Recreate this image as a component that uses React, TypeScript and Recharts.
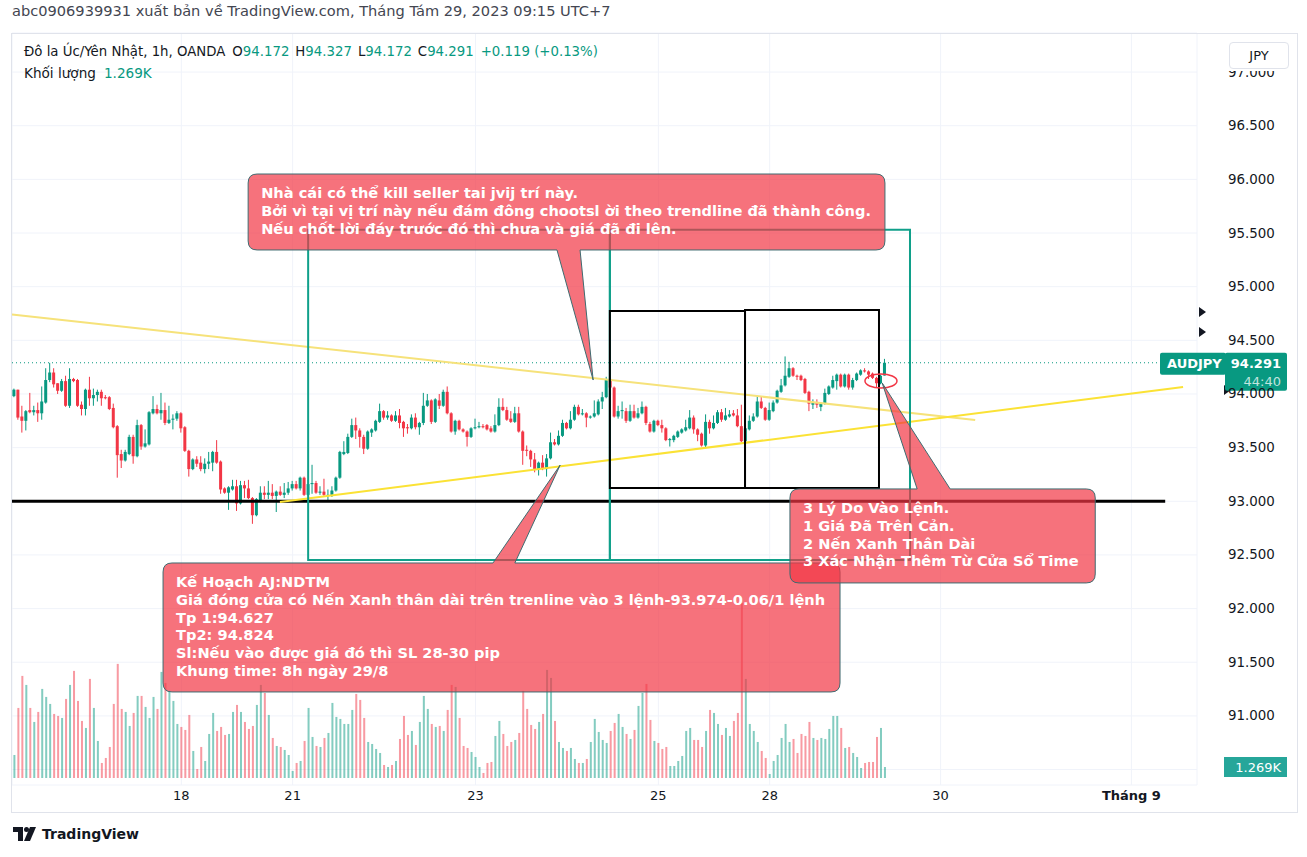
import React from 'react';
import {
  ComposedChart,
  Bar,
  XAxis,
  YAxis,
  CartesianGrid,
  ReferenceLine,
  ReferenceArea,
  ReferenceDot,
} from 'recharts';

// AUDJPY 1h candles (oldest first)
const opens = [
  93.98, 94.04, 93.79, 93.75, 93.85, 93.83, 93.85, 93.82, 93.92, 94.13,
  94.20, 94.10, 94.03, 94.12, 93.89, 94.14, 94.13, 93.90, 93.86, 94.04,
  93.96, 93.99, 94.02, 93.97, 93.97, 93.87, 93.70, 93.44, 93.38, 93.44,
  93.60, 93.42, 93.71, 93.51, 93.53, 93.82, 93.86, 93.82, 93.85, 93.73,
  93.76, 93.77, 93.82, 93.69, 93.47, 93.30, 93.39, 93.36, 93.30, 93.35,
  93.36, 93.46, 93.37, 93.12, 93.08, 93.11, 93.14, 92.98, 93.15, 93.12,
  93.03, 92.87, 93.00, 93.08, 93.06, 93.08, 93.05, 93.09, 93.06, 93.08,
  93.12, 93.16, 93.12, 93.22, 93.06, 93.16, 93.17, 93.08, 93.09, 93.05,
  93.06, 93.10, 93.22, 93.44, 93.45, 93.60, 93.71, 93.66, 93.60, 93.49,
  93.64, 93.66, 93.74, 93.84, 93.78, 93.80, 93.75, 93.80, 93.74, 93.69,
  93.68, 93.78, 93.69, 93.73, 93.89, 93.94, 93.74, 93.94, 93.89, 94.02,
  93.82, 93.65, 93.75, 93.67, 93.65, 93.60, 93.68, 93.69, 93.70, 93.71,
  93.68, 93.65, 93.71, 93.88, 93.85, 93.77, 93.74, 93.82, 93.65, 93.48,
  93.47, 93.39, 93.30, 93.36, 93.30, 93.40, 93.55, 93.53, 93.61, 93.73,
  93.68, 93.76, 93.88, 93.81, 93.82, 93.78, 93.79, 93.81, 93.93, 93.97,
  94.14, 94.06, 93.79, 93.84, 93.84, 93.75, 93.84, 93.78, 93.82, 93.88,
  93.72, 93.65, 93.75, 93.71, 93.68, 93.57, 93.57, 93.60, 93.64, 93.66,
  93.68, 93.78, 93.67, 93.63, 93.52, 93.74, 93.68, 93.73, 93.83, 93.76,
  93.79, 93.82, 93.80, 93.70, 93.56, 93.67, 93.75, 93.79, 93.93, 93.87,
  93.76, 93.84, 93.92, 94.02, 94.08, 94.16, 94.24, 94.17, 94.17, 94.14,
  94.02, 93.90, 93.92, 93.88, 93.91, 94.00, 94.06, 94.12, 94.18, 94.07,
  94.18, 94.06, 94.13, 94.18, 94.22, 94.21, 94.19, 94.15, 94.10, 94.172,
];

const highs = [
  94.05, 94.04, 93.89, 93.85, 94.01, 93.89, 93.92, 94.07, 94.24, 94.29,
  94.24, 94.10, 94.14, 94.17, 94.24, 94.15, 94.14, 93.93, 94.05, 94.16,
  94.05, 94.04, 94.04, 93.99, 93.98, 93.91, 93.71, 93.48, 93.48, 93.62,
  93.62, 93.76, 93.72, 93.67, 93.84, 93.98, 93.90, 94.01, 93.92, 93.89,
  93.81, 93.84, 93.83, 93.70, 93.48, 93.40, 93.42, 93.42, 93.40, 93.46,
  93.47, 93.57, 93.38, 93.13, 93.14, 93.20, 93.20, 93.19, 93.19, 93.20,
  93.04, 93.03, 93.14, 93.14, 93.19, 93.16, 93.10, 93.14, 93.17, 93.18,
  93.19, 93.19, 93.23, 93.23, 93.20, 93.34, 93.19, 93.14, 93.21, 93.11,
  93.14, 93.23, 93.47, 93.56, 93.63, 93.77, 93.78, 93.68, 93.62, 93.66,
  93.68, 93.76, 93.91, 93.85, 93.84, 93.81, 93.84, 93.86, 93.75, 93.72,
  93.81, 93.82, 93.74, 94.01, 94.00, 93.95, 93.96, 94.00, 94.04, 94.07,
  93.83, 93.76, 93.76, 93.68, 93.66, 93.69, 93.77, 93.74, 93.72, 93.72,
  93.70, 93.81, 93.96, 93.96, 93.88, 93.84, 93.88, 93.88, 93.66, 93.52,
  93.48, 93.45, 93.37, 93.43, 93.44, 93.64, 93.58, 93.66, 93.76, 93.74,
  93.84, 93.90, 93.90, 93.86, 93.83, 93.80, 93.94, 93.95, 94.02, 94.16,
  94.19, 94.07, 93.89, 93.93, 93.87, 93.90, 93.90, 93.87, 93.93, 93.89,
  93.74, 93.76, 93.76, 93.76, 93.69, 93.59, 93.62, 93.66, 93.68, 93.76,
  93.85, 93.80, 93.68, 93.64, 93.81, 93.76, 93.80, 93.85, 93.86, 93.87,
  93.85, 93.85, 93.86, 93.90, 93.69, 93.80, 93.82, 93.98, 93.98, 93.88,
  93.92, 93.94, 94.04, 94.14, 94.35, 94.30, 94.25, 94.18, 94.18, 94.15,
  94.03, 93.95, 93.95, 93.92, 94.05, 94.08, 94.17, 94.19, 94.19, 94.19,
  94.19, 94.15, 94.20, 94.23, 94.24, 94.22, 94.20, 94.16, 94.18, 94.327,
];

const lows = [
  93.97, 93.76, 93.64, 93.66, 93.82, 93.80, 93.74, 93.76, 93.91, 94.11,
  94.06, 94.00, 94.02, 93.88, 93.87, 94.11, 93.88, 93.80, 93.80, 93.89,
  93.89, 93.93, 93.89, 93.95, 93.85, 93.68, 93.22, 93.31, 93.37, 93.43,
  93.35, 93.41, 93.48, 93.50, 93.52, 93.81, 93.81, 93.76, 93.71, 93.72,
  93.67, 93.75, 93.64, 93.46, 93.23, 93.29, 93.32, 93.28, 93.26, 93.30,
  93.28, 93.35, 93.07, 93.07, 92.92, 93.10, 92.91, 92.97, 93.03, 93.02,
  92.79, 92.86, 92.99, 93.02, 93.02, 93.02, 92.90, 93.05, 93.03, 93.06,
  93.10, 93.11, 93.10, 93.05, 93.05, 93.07, 93.07, 93.06, 93.05, 93.00,
  93.04, 93.09, 93.21, 93.43, 93.44, 93.59, 93.58, 93.50, 93.44, 93.48,
  93.60, 93.65, 93.73, 93.76, 93.76, 93.74, 93.74, 93.68, 93.60, 93.63,
  93.67, 93.67, 93.62, 93.71, 93.88, 93.72, 93.73, 93.86, 93.88, 93.81,
  93.64, 93.62, 93.66, 93.64, 93.51, 93.59, 93.67, 93.68, 93.68, 93.66,
  93.64, 93.64, 93.70, 93.84, 93.75, 93.73, 93.73, 93.64, 93.34, 93.42,
  93.32, 93.27, 93.24, 93.29, 93.23, 93.39, 93.52, 93.52, 93.60, 93.67,
  93.67, 93.75, 93.80, 93.80, 93.69, 93.77, 93.78, 93.80, 93.86, 93.96,
  94.04, 93.78, 93.77, 93.77, 93.73, 93.74, 93.77, 93.77, 93.81, 93.71,
  93.64, 93.64, 93.70, 93.64, 93.56, 93.51, 93.55, 93.59, 93.63, 93.65,
  93.67, 93.63, 93.56, 93.51, 93.50, 93.63, 93.67, 93.72, 93.74, 93.75,
  93.78, 93.79, 93.69, 93.55, 93.55, 93.66, 93.74, 93.78, 93.86, 93.75,
  93.75, 93.83, 93.91, 94.01, 94.07, 94.15, 94.16, 94.13, 94.12, 94.00,
  93.84, 93.86, 93.87, 93.84, 93.90, 93.99, 94.05, 94.04, 94.06, 94.06,
  94.04, 94.04, 94.12, 94.17, 94.20, 94.14, 94.14, 94.06, 94.09, 94.172,
];

const closes = [
  94.04, 93.78, 93.75, 93.84, 93.83, 93.85, 93.82, 93.93, 94.13, 94.20,
  94.09, 94.03, 94.12, 93.89, 94.14, 94.12, 93.89, 93.86, 94.04, 93.96,
  93.99, 94.02, 93.96, 93.96, 93.86, 93.69, 93.43, 93.38, 93.46, 93.60,
  93.42, 93.71, 93.51, 93.54, 93.83, 93.86, 93.82, 93.85, 93.73, 93.76,
  93.77, 93.82, 93.68, 93.47, 93.30, 93.39, 93.35, 93.30, 93.35, 93.37,
  93.46, 93.36, 93.11, 93.08, 93.13, 93.14, 92.98, 93.15, 93.12, 93.03,
  92.87, 93.02, 93.08, 93.06, 93.08, 93.05, 93.09, 93.06, 93.08, 93.12,
  93.16, 93.12, 93.22, 93.06, 93.16, 93.17, 93.08, 93.09, 93.06, 93.06,
  93.10, 93.22, 93.46, 93.46, 93.60, 93.71, 93.66, 93.60, 93.49, 93.65,
  93.67, 93.75, 93.84, 93.78, 93.80, 93.75, 93.80, 93.73, 93.68, 93.68,
  93.78, 93.69, 93.73, 93.89, 93.94, 93.74, 93.95, 93.89, 94.02, 93.82,
  93.65, 93.75, 93.67, 93.65, 93.60, 93.68, 93.69, 93.70, 93.69, 93.67,
  93.65, 93.71, 93.88, 93.85, 93.76, 93.74, 93.82, 93.65, 93.47, 93.47,
  93.39, 93.30, 93.36, 93.30, 93.40, 93.55, 93.53, 93.61, 93.73, 93.68,
  93.76, 93.88, 93.81, 93.82, 93.78, 93.79, 93.82, 93.93, 93.97, 94.14,
  94.06, 93.79, 93.84, 93.85, 93.75, 93.84, 93.78, 93.82, 93.88, 93.73,
  93.65, 93.75, 93.71, 93.68, 93.57, 93.58, 93.61, 93.65, 93.67, 93.69,
  93.78, 93.67, 93.62, 93.52, 93.74, 93.68, 93.73, 93.83, 93.76, 93.80,
  93.81, 93.80, 93.70, 93.56, 93.68, 93.75, 93.79, 93.93, 93.87, 93.76,
  93.85, 93.92, 94.03, 94.08, 94.17, 94.24, 94.17, 94.16, 94.13, 94.01,
  93.91, 93.92, 93.90, 93.91, 94.01, 94.07, 94.13, 94.18, 94.07, 94.18,
  94.06, 94.13, 94.19, 94.22, 94.21, 94.18, 94.15, 94.10, 94.17, 94.291,
];

const volumes = [
  2656, 8085, 11781, 10741, 8085, 6468, 7623, 10280, 9356, 8547,
  7392, 7161, 6930, 9125, 10741, 12359, 8894, 6584, 5775, 11435,
  8085, 4274, 1733, 2310, 3581, 8547, 13167, 7970, 7623, 6006,
  7508, 9471, 9471, 8201, 6930, 9356, 7970, 12243, 10973, 10049,
  8894, 6237, 5891, 5544, 7277, 3119, 1040, 3581, 1964, 5082,
  7508, 5429, 5891, 4967, 5082, 7623, 8432, 7623, 6468, 5660,
  6006, 8432, 10741, 9818, 7277, 4620, 3696, 3581, 3234, 2656,
  809, 1733, 1964, 4274, 8085, 4736, 3696, 3581, 4620, 5198,
  8663, 7046, 6815, 6237, 6237, 7854, 9702, 9009, 6930, 4158,
  3927, 3350, 2888, 1502, 1271, 1502, 1964, 4505, 7161, 4967,
  5429, 3812, 6468, 9471, 7970, 6237, 5891, 6006, 5429, 7854,
  10741, 10511, 6930, 3696, 3465, 3003, 2426, 1271, 578, 1733,
  1848, 4851, 6584, 5082, 3696, 4158, 4389, 5198, 10049, 7970,
  6122, 5660, 6468, 7392, 12474, 11550, 6584, 4158, 3465, 3119,
  3465, 2195, 1733, 1733, 2195, 4158, 6815, 5313, 4389, 4043,
  5429, 6353, 7392, 5891, 5082, 4505, 5544, 8316, 9818, 10857,
  6699, 4274, 4043, 3350, 3581, 1386, 1386, 1964, 2541, 5429,
  5775, 4389, 4389, 3581, 5429, 7854, 7508, 6237, 4967, 5775,
  4851, 6584, 7508, 20200, 11434, 6237, 5429, 4158, 3119, 2310,
  462, 1964, 2656, 4620, 6237, 4158, 4505, 2888, 5082, 4851,
  6468, 4620, 4389, 4620, 4505, 5660, 7161, 7161, 5775, 3465,
  3581, 2888, 2426, 1155, 1733, 1848, 1848, 4736, 5775, 1269,
];

// time axis: candle index where each day label sits
const dayTicks = [42, 70, 116, 162, 190, 233, 281];
const dayLabels = ['18', '21', '23', '25', '28', '30', 'Tháng 9'];
// 90.5 only gets a grid line; its label sits under the volume tag
const priceTicks = [90.5, 91, 91.5, 92, 92.5, 93, 93.5, 94, 94.5, 95, 95.5, 96, 96.5, 97];

const UP = '#089981';
const DOWN = '#f23645';
const FONT = "'DejaVu Sans', sans-serif";
const TEXT = '#131722';

const X_DOMAIN: [number, number] = [-0.6, 297.5];
const P_DOMAIN: [number, number] = [90.356, 97.364];
const V_DOMAIN: [number, number] = [-808, 85973];

const candles = opens.map((open, i) => ({
  i,
  open,
  high: highs[i],
  low: lows[i],
  close: closes[i],
  vol: volumes[i],
}));

const last = candles.length - 1;

// drawings on the chart, in (candle index, price)
const trendLines = [
  { from: [-0.6, 94.74], to: [241.7, 93.758], color: '#f6e27a', width: 2 },
  { from: [66.8, 92.993], to: [294.0, 94.065], color: '#fbe235', width: 2 },
];

const boxes = [
  { x1: 73.9, x2: 149.8, y1: 92.453, y2: 95.53, color: '#10a08a' },
  { x1: 149.8, x2: 225.3, y1: 92.453, y2: 95.53, color: '#10a08a' },
  { x1: 149.8, x2: 183.8, y1: 93.124, y2: 94.774, color: '#000000' },
  { x1: 183.8, x2: 217.5, y1: 93.124, y2: 94.783, color: '#000000' },
];

const axisMarks = [94.764, 94.578];

const notes = [
  {
    x1: 58.8, x2: 219.0, top: 96.05, bottom: 95.342, side: 'bottom',
    base: [136.5, 142.3], tip: [145.6, 94.13],
    lines: [
      'Nhà cái có thể kill seller tai jvij trí này.',
      'Bởi vì tại vị trí này nếu đám đông chootsl ời theo trendline đã thành công.',
      'Nếu chốt lời đáy trước đó thì chưa và giá đã đi lên.',
    ],
  },
  {
    x1: 37.4, x2: 207.7, top: 92.425, bottom: 91.223, side: 'top',
    base: [120.4, 125.9], tip: [137.3, 93.338],
    lines: [
      'Kế Hoạch AJ:NDTM',
      'Giá đóng cửa có Nến Xanh thân dài trên trenline vào 3 lệnh-93.974-0.06/1 lệnh',
      'Tp 1:94.627',
      'Tp2: 94.824',
      'Sl:Nếu vào được giá đó thì SL 28-30 pip',
      'Khung time: 8h ngày 29/8',
    ],
  },
  {
    x1: 195.1, x2: 271.9, top: 93.115, bottom: 92.239, side: 'top',
    base: [227.1, 235.4], tip: [218.3, 94.103],
    lines: [
      '3 Lý Do Vào Lệnh.',
      '1 Giá Đã Trên Cản.',
      '2 Nến Xanh Thân Dài',
      '3 Xác Nhận Thêm Từ Cửa Sổ Time',
    ],
  },
];

function CandleShape(props: any) {
  const { x, y, width, height, payload } = props;
  if (!payload) return null;
  const top = Math.min(y, y + height);
  const h = Math.abs(height);
  const span = payload.high - payload.low;
  const k = span > 0 ? h / span : 0;
  const py = (p: number) => top + (payload.high - p) * k;
  const color = payload.close >= payload.open ? UP : DOWN;
  const bTop = py(Math.max(payload.open, payload.close));
  const bBot = py(Math.min(payload.open, payload.close));
  const cx = x + width / 2;
  return (
    <g>
      <line x1={cx} x2={cx} y1={top} y2={top + h} stroke={color} strokeWidth={1} />
      <rect x={x} y={bTop} width={width} height={Math.max(1, bBot - bTop)} fill={color} />
    </g>
  );
}

function VolumeShape(props: any) {
  const { x, y, width, height, payload } = props;
  if (!payload) return null;
  const color = payload.close >= payload.open ? UP : DOWN;
  return (
    <rect
      x={x}
      y={Math.min(y, y + height)}
      width={width}
      height={Math.abs(height)}
      fill={color}
      fillOpacity={0.5}
    />
  );
}

function calloutShape(n: any) {
  return (p: any) => {
    const { x, y, width, height } = p;
    const kx = width / (n.x2 - n.x1);
    const ky = height / (n.top - n.bottom);
    const X = (v: number) => x + (v - n.x1) * kx;
    const Y = (v: number) => y + (n.top - v) * ky;
    const r = 9;
    const R = x + width;
    const B = y + height;
    const b1 = X(n.base[0]);
    const b2 = X(n.base[1]);
    const tx = X(n.tip[0]);
    const ty = Y(n.tip[1]);
    const d =
      n.side === 'top'
        ? `M${x + r},${y} H${b1} L${tx},${ty} L${b2},${y} H${R - r} Q${R},${y} ${R},${y + r} V${B - r} Q${R},${B} ${R - r},${B} H${x + r} Q${x},${B} ${x},${B - r} V${y + r} Q${x},${y} ${x + r},${y} Z`
        : `M${x + r},${y} H${R - r} Q${R},${y} ${R},${y + r} V${B - r} Q${R},${B} ${R - r},${B} H${b2} L${tx},${ty} L${b1},${B} H${x + r} Q${x},${B} ${x},${B - r} V${y + r} Q${x},${y} ${x + r},${y} Z`;
    return (
      <g>
        <path d={d} fill="rgba(242,54,69,0.7)" stroke="#3f6b70" strokeWidth={1} />
        <text fontFamily={FONT} fontSize={14.6} fontWeight="bold" fill="#ffffff">
          {n.lines.map((t: string, k: number) => (
            <tspan key={k} x={x + 13} y={y + 24 + k * 17.8}>
              {t}
            </tspan>
          ))}
        </text>
      </g>
    );
  };
}

function DayTick(p: any) {
  const k = dayTicks.indexOf(p.payload.value);
  const label = k >= 0 ? dayLabels[k] : '';
  const bold = label.startsWith('Tháng');
  return (
    <text
      x={p.x}
      y={p.y + 15}
      textAnchor="middle"
      fontFamily={FONT}
      fontSize={13}
      fontWeight={bold ? 'bold' : 'normal'}
      fill={TEXT}
    >
      {label}
    </text>
  );
}

function PriceTick(p: any) {
  const v = Number(p.payload.value);
  if (v < 90.9) return <g />;
  return (
    <text x={p.x} y={p.y + 4.5} textAnchor="start" fontFamily={FONT} fontSize={13.4} fill={TEXT}>
      {v.toFixed(3)}
    </text>
  );
}

function PriceTag(p: any) {
  const { cx, cy } = p;
  return (
    <g fontFamily={FONT}>
      <rect x={cx - 37} y={cy - 10} width={66} height={22} rx={2} fill={UP} />
      <rect x={cx + 28} y={cy - 10} width={62} height={38} rx={2} fill={UP} />
      <text x={cx - 30} y={cy + 5.5} fill="#fff" fontSize={13} fontWeight="bold">
        AUDJPY
      </text>
      <text x={cx + 84} y={cy + 5.5} fill="#fff" fontSize={13} fontWeight="bold" textAnchor="end">
        {closes[last].toFixed(3)}
      </text>
      <text x={cx + 84} y={cy + 23} fill="#fff" fillOpacity={0.75} fontSize={13} textAnchor="end">
        44:40
      </text>
    </g>
  );
}

function VolTag(p: any) {
  const { cx, cy } = p;
  return (
    <g fontFamily={FONT}>
      <rect x={cx + 27} y={cy - 10} width={63} height={20} fill="#26a69a" />
      <text x={cx + 84} y={cy + 5} fill="#fff" fontSize={13} textAnchor="end">
        {(volumes[last] / 1000).toFixed(3)}K
      </text>
    </g>
  );
}

function Marker(dx: number) {
  return (p: any) => (
    <path
      d={`M${p.cx + dx},${p.cy - 5} L${p.cx + dx + 7},${p.cy} L${p.cx + dx},${p.cy + 5} Z`}
      fill={TEXT}
    />
  );
}

function Ellipse(p: any) {
  return <ellipse cx={p.cx} cy={p.cy} rx={16} ry={7} fill="none" stroke={DOWN} strokeWidth={1.5} />;
}

const o = opens[last];
const c = closes[last];
const chg = c - o;

export default function App() {
  return (
    <div
      style={{
        position: 'absolute',
        left: 0,
        top: 0,
        width: 1307,
        height: 857,
        background: '#ffffff',
        fontFamily: FONT,
        overflow: 'hidden',
      }}
    >
      <ComposedChart
        width={1307}
        height={857}
        data={candles}
        margin={{ top: 33, right: 10, bottom: 45, left: 12 }}
      >
        <CartesianGrid xAxisId="t" yAxisId="p" stroke="#f0f3fa" />
        <XAxis
          xAxisId="t"
          type="number"
          dataKey="i"
          domain={X_DOMAIN}
          allowDataOverflow
          ticks={dayTicks}
          interval={0}
          height={27}
          axisLine={false}
          tickLine={false}
          tickSize={0}
          tickMargin={0}
          tick={(p: any) => <DayTick {...p} />}
        />
        <XAxis xAxisId="tv" type="number" dataKey="i" domain={X_DOMAIN} allowDataOverflow hide />
        <YAxis
          yAxisId="p"
          orientation="right"
          width={100}
          domain={P_DOMAIN}
          allowDataOverflow
          ticks={priceTicks}
          interval={0}
          axisLine={false}
          tickLine={false}
          tickSize={0}
          tickMargin={31}
          tick={(p: any) => <PriceTick {...p} />}
        />
        <YAxis yAxisId="v" domain={V_DOMAIN} allowDataOverflow hide />

        <Bar
          xAxisId="tv"
          yAxisId="v"
          dataKey="vol"
          barSize={2}
          shape={VolumeShape}
          isAnimationActive={false}
        />
        <Bar
          xAxisId="t"
          yAxisId="p"
          dataKey={(d: any) => [d.low, d.high]}
          barSize={3}
          shape={CandleShape}
          isAnimationActive={false}
        />

        <ReferenceLine
          xAxisId="t"
          yAxisId="p"
          y={closes[last]}
          stroke={UP}
          strokeDasharray="1 3"
          zIndex={450}
        />
        <ReferenceLine
          xAxisId="t"
          yAxisId="p"
          segment={[{ x: -0.6, y: 93 }, { x: 289.5, y: 93 }]}
          stroke="#000000"
          strokeWidth={3}
          zIndex={450}
        />
        {trendLines.map((l, k) => (
          <ReferenceLine
            key={'tl' + k}
            xAxisId="t"
            yAxisId="p"
            segment={[{ x: l.from[0], y: l.from[1] }, { x: l.to[0], y: l.to[1] }]}
            stroke={l.color}
            strokeWidth={l.width}
            zIndex={450}
          />
        ))}
        {boxes.map((b, k) => (
          <ReferenceArea
            key={'bx' + k}
            xAxisId="t"
            yAxisId="p"
            x1={b.x1}
            x2={b.x2}
            y1={b.y1}
            y2={b.y2}
            fill="none"
            stroke={b.color}
            strokeWidth={2}
            zIndex={460}
          />
        ))}
        <ReferenceDot
          xAxisId="t"
          yAxisId="p"
          x={218.0}
          y={94.121}
          ifOverflow="visible"
          shape={Ellipse}
          zIndex={470}
        />
        {notes.map((n, k) => (
          <ReferenceArea
            key={'nt' + k}
            xAxisId="t"
            yAxisId="p"
            x1={n.x1}
            x2={n.x2}
            y1={n.bottom}
            y2={n.top}
            shape={calloutShape(n)}
            zIndex={700}
          />
        ))}
        {axisMarks.map((m, k) => (
          <ReferenceDot
            key={'mk' + k}
            xAxisId="t"
            yAxisId="p"
            x={X_DOMAIN[1]}
            y={m}
            ifOverflow="visible"
            shape={Marker(2)}
            zIndex={800}
          />
        ))}
        <ReferenceDot
          xAxisId="t"
          yAxisId="p"
          x={X_DOMAIN[1]}
          y={94.037}
          ifOverflow="visible"
          shape={Marker(27)}
          zIndex={800}
        />
        <ReferenceDot
          xAxisId="t"
          yAxisId="p"
          x={X_DOMAIN[1]}
          y={closes[last]}
          ifOverflow="visible"
          shape={PriceTag}
          zIndex={900}
        />
        <ReferenceDot
          xAxisId="tv"
          yAxisId="v"
          x={X_DOMAIN[1]}
          y={volumes[last]}
          ifOverflow="visible"
          shape={VolTag}
          zIndex={900}
        />
      </ComposedChart>

      {/* pane border */}
      <div
        style={{
          position: 'absolute',
          left: 11,
          top: 33,
          width: 1285,
          height: 778,
          border: '1px solid #e0e3eb',
          pointerEvents: 'none',
        }}
      />

      {/* header */}
      <div style={{ position: 'absolute', left: 12, top: 2, fontSize: 14.6, color: '#434651', whiteSpace: 'nowrap' }}>
        abc0906939931 xuất bản về TradingView.com, Tháng Tám 29, 2023 09:15 UTC+7
      </div>

      {/* legend */}
      <div style={{ position: 'absolute', left: 24, top: 44, fontSize: 13.3, color: TEXT, whiteSpace: 'nowrap' }}>
        <span>Đô la Úc/Yên Nhật, 1h, OANDA</span>
        <span style={{ marginLeft: 7 }}>O</span>
        <span style={{ color: UP }}>{o.toFixed(3)}</span>
        <span style={{ marginLeft: 6 }}>H</span>
        <span style={{ color: UP }}>{highs[last].toFixed(3)}</span>
        <span style={{ marginLeft: 6 }}>L</span>
        <span style={{ color: UP }}>{lows[last].toFixed(3)}</span>
        <span style={{ marginLeft: 6 }}>C</span>
        <span style={{ color: UP }}>{c.toFixed(3)}</span>
        <span style={{ color: UP, marginLeft: 7 }}>
          +{chg.toFixed(3)} (+{((chg / o) * 100).toFixed(2)}%)
        </span>
      </div>
      <div style={{ position: 'absolute', left: 24, top: 65, fontSize: 13.6, color: TEXT, whiteSpace: 'nowrap' }}>
        <span>Khối lượng</span>
        <span style={{ color: UP, marginLeft: 8 }}>{(volumes[last] / 1000).toFixed(3)}K</span>
      </div>

      {/* currency button */}
      <div style={{ position: 'absolute', left: 1200, top: 34, width: 96, height: 37, background: '#fff' }} />
      <div
        style={{
          position: 'absolute',
          left: 1229,
          top: 42,
          width: 58,
          height: 25,
          border: '1px solid #e0e3eb',
          borderRadius: 4,
          background: '#fff',
          fontSize: 13,
          color: TEXT,
          display: 'flex',
          alignItems: 'center',
          justifyContent: 'center',
        }}
      >
        JPY
      </div>

      {/* footer logo */}
      <div style={{ position: 'absolute', left: 13, top: 826, display: 'flex', alignItems: 'center' }}>
        <svg width={24} height={16} viewBox="0 0 24 16">
          <path d="M0 1 H10 V15 H5 V6 H0 Z" fill={TEXT} />
          <circle cx={13.5} cy={3.5} r={2.5} fill={TEXT} />
          <path d="M17 1 H23 L17 15 H11 Z" fill={TEXT} />
        </svg>
        <span style={{ marginLeft: 5, fontSize: 14, color: TEXT, fontWeight: 600 }}>TradingView</span>
      </div>
    </div>
  );
}
